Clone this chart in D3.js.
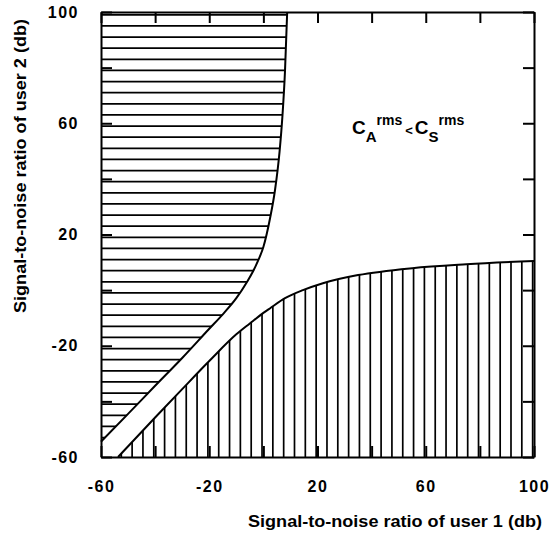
<!DOCTYPE html>
<html>
<head>
<meta charset="utf-8">
<script src="https://cdn.jsdelivr.net/npm/d3@7"></script>
<style>
  body { margin: 0; background: #fff; }
  text { font-family: "Liberation Sans", Arial, sans-serif; font-weight: bold; fill: #000; }
  .axis path, .axis line { stroke: #000; stroke-width: 2; }
  .hatch { stroke: #000; stroke-width: 1.7; }
  .edge { fill: none; stroke: #000; stroke-width: 2; }
</style>
</head>
<body>
<script>
// region boundaries (user 1 db, user 2 db)
var upperX = [-60, -50, -40, -30, -20, -15, -10, -6, -4, -2, 0, 2.5, 4.3, 6, 7, 8, 8.8];
var upperY = [-54.5, -44.5, -34.4, -24.4, -13.9, -8.7, -2.9, 3, 6.4, 10.5, 15.5, 26, 36, 50, 62, 79, 100];

var lowerX = [-53.7, -40, -30, -20, -10, -5, 0, 2.5, 8, 14.6, 22, 35, 55, 75, 100];
var lowerY = [-60, -45.8, -35.6, -25.5, -15.9, -12, -8.2, -6.5, -2.9, 0, 2.5, 5.4, 7.9, 9.3, 10.5];

var tickValues = [-60, -40, -20, 0, 20, 40, 60, 80, 100];
var tickLabels = [-60, -20, 20, 60, 100];

var width = 552,
    height = 534;

var x = d3.scaleLinear().domain([-60, 100]).range([101, 534]);
var y = d3.scaleLinear().domain([-60, 100]).range([457, 12]);

var svg = d3.select("body")
            .append("svg")
            .attr("width", width)
            .attr("height", height);

var line = d3.line()
             .x(function(d){ return x(d[0]); })
             .y(function(d){ return y(d[1]); })
             .curve(d3.curveMonotoneX);

var upper = upperX.map(function(v, i){ return [v, upperY[i]]; });
var lower = lowerX.map(function(v, i){ return [v, lowerY[i]]; });

// closed outlines used to clip the hatching
var defs = svg.append("defs");
defs.append("clipPath").attr("id", "clipUpper")
    .append("path")
    .attr("d", line(upper) + "L" + x(-60) + "," + y(100) + "Z");
defs.append("clipPath").attr("id", "clipLower")
    .append("path")
    .attr("d", line(lower) + "L" + x(100) + "," + y(-60) + "Z");

// horizontal hatching, every 4 db
svg.append("g")
   .attr("clip-path", "url(#clipUpper)")
   .selectAll("line")
   .data(d3.range(-53, 100, 4))
   .enter()
   .append("line")
   .attr("class", "hatch")
   .attr("x1", x(-60))
   .attr("x2", x(100))
   .attr("y1", function(d){ return y(d); })
   .attr("y2", function(d){ return y(d); });

// vertical hatching, every 4 db
svg.append("g")
   .attr("clip-path", "url(#clipLower)")
   .selectAll("line")
   .data(d3.range(-52.5, 100, 4))
   .enter()
   .append("line")
   .attr("class", "hatch")
   .attr("x1", function(d){ return x(d); })
   .attr("x2", function(d){ return x(d); })
   .attr("y1", y(-60))
   .attr("y2", y(100));

svg.append("path").datum(upper).attr("class", "edge").attr("d", line);
svg.append("path").datum(lower).attr("class", "edge").attr("d", line);

function label(d){ return tickLabels.indexOf(d) >= 0 ? d : ""; }

svg.append("g")
   .attr("class", "axis")
   .attr("transform", "translate(0," + y(-60) + ")")
   .call(d3.axisBottom(x).tickValues(tickValues).tickFormat(label)
           .tickSize(-11).tickSizeOuter(0).tickPadding(24))
   .selectAll("text")
   .style("font-size", "16px")
   .style("letter-spacing", "1.5px");

svg.append("g")
   .attr("class", "axis")
   .attr("transform", "translate(" + x(-60) + ",0)")
   .call(d3.axisLeft(y).tickValues(tickValues).tickFormat(label)
           .tickSize(-11).tickSizeOuter(0).tickPadding(22))
   .selectAll("text")
   .style("font-size", "16px")
   .style("letter-spacing", "1.5px");

svg.append("g")
   .attr("class", "axis")
   .attr("transform", "translate(0," + y(100) + ")")
   .call(d3.axisTop(x).tickValues(tickValues).tickFormat("")
           .tickSize(-11).tickSizeOuter(0));

svg.append("g")
   .attr("class", "axis")
   .attr("transform", "translate(" + x(100) + ",0)")
   .call(d3.axisRight(y).tickValues(tickValues).tickFormat("")
           .tickSize(-11).tickSizeOuter(0));

svg.selectAll(".axis text").attr("fill", "#000");

// axis titles
svg.append("text")
   .attr("x", 248)
   .attr("y", 527)
   .attr("textLength", 294)
   .attr("lengthAdjust", "spacingAndGlyphs")
   .style("font-size", "17px")
   .text("Signal-to-noise ratio of user 1 (db)");

svg.append("text")
   .attr("transform", "translate(26,313) rotate(-90)")
   .attr("textLength", 294)
   .attr("lengthAdjust", "spacingAndGlyphs")
   .style("font-size", "17px")
   .text("Signal-to-noise ratio of user 2 (db)");

// region annotation
var note = svg.append("text")
   .attr("x", 352)
   .attr("y", 134)
   .style("font-size", "19px");
note.append("tspan").text("C");
note.append("tspan").attr("dy", 8).style("font-size", "15px").text("A");
note.append("tspan").attr("dy", -17).style("font-size", "14px").text("rms");
note.append("tspan").attr("dy", 10).attr("dx", 3).style("font-size", "13px").text("<");
note.append("tspan").attr("dy", -1).attr("dx", 2).text("C");
note.append("tspan").attr("dy", 8).style("font-size", "15px").text("S");
note.append("tspan").attr("dy", -17).style("font-size", "14px").text("rms");
</script>
</body>
</html>
